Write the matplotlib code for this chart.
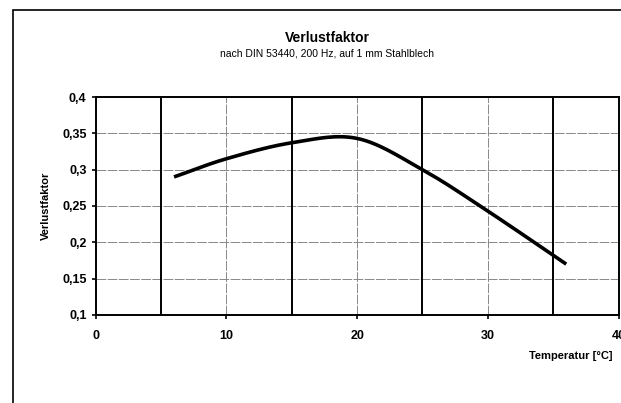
import numpy as np
import matplotlib.pyplot as plt
from matplotlib.patches import Rectangle
from matplotlib.ticker import FuncFormatter

temperatur = [6, 10, 15, 20, 25, 30, 36]
verlustfaktor = [0.29, 0.315, 0.337, 0.343, 0.30, 0.243, 0.17]

x_ticks = [0, 10, 20, 30, 40]
y_ticks = [0.1, 0.15, 0.2, 0.25, 0.3, 0.35, 0.4]
dicke_linien = [5, 15, 25, 35]
duenne_linien = [10, 20, 30]


def glatt(x, y, n=30):
    # Catmull-Rom Glaettung wie in Excel
    x = np.asarray(x, float)
    y = np.asarray(y, float)
    px = np.concatenate([[2 * x[0] - x[1]], x, [2 * x[-1] - x[-2]]])
    py = np.concatenate([[2 * y[0] - y[1]], y, [2 * y[-1] - y[-2]]])
    xs, ys = [], []
    t = np.linspace(0, 1, n)
    for i in range(1, len(px) - 2):
        for p, out in ((px, xs), (py, ys)):
            p0, p1, p2, p3 = p[i - 1], p[i], p[i + 1], p[i + 2]
            out.extend(0.5 * (2 * p1 + (-p0 + p2) * t
                              + (2 * p0 - 5 * p1 + 4 * p2 - p3) * t ** 2
                              + (-p0 + 3 * p1 - 3 * p2 + p3) * t ** 3))
    return xs, ys


plt.rcParams['font.family'] = ['Liberation Sans', 'DejaVu Sans']

fig = plt.figure(figsize=(6.21, 4.03), dpi=100)
fig.patches.append(Rectangle((13 / 621, -0.2), 1.2, 1.2 - 10 / 403,
                             transform=fig.transFigure, fill=False,
                             edgecolor='black', linewidth=1.2))

ax = fig.add_axes([0.154, 0.2184, 0.842, 0.5409])

for v in y_ticks[1:-1]:
    ax.axhline(v, color='#888888', linewidth=0.7, linestyle=(0, (10, 1.5)), zorder=1)
for v in duenne_linien:
    ax.axvline(v, color='#888888', linewidth=0.7, linestyle=(0, (10, 1.5)), zorder=1)
for v in dicke_linien:
    ax.axvline(v, color='black', linewidth=1.4, zorder=2)

xs, ys = glatt(temperatur, verlustfaktor)
ax.plot(xs, ys, color='black', linewidth=2.6, solid_capstyle='butt', zorder=3)

ax.set_xlim(0, 40)
ax.set_ylim(0.1, 0.4)
ax.set_xticks(x_ticks)
ax.set_yticks(y_ticks)
ax.yaxis.set_major_formatter(FuncFormatter(lambda v, p: f'{v:g}'.replace('.', ',')))
ax.tick_params(axis='both', direction='out', length=3, width=1.2, labelsize=9)
ax.tick_params(axis='x', pad=8)
for lab in ax.get_xticklabels() + ax.get_yticklabels():
    lab.set_fontweight('bold')
for s in ax.spines.values():
    s.set_linewidth(1.4)

ax.set_ylabel('Verlustfaktor', fontsize=8, fontweight='bold', labelpad=8)
fig.text(0.987, 0.117, 'Temperatur [°C]', fontsize=8, fontweight='bold', ha='right', va='center')

fig.text(0.527, 0.905, 'Verlustfaktor', fontsize=10, fontweight='bold', ha='center', va='center')
fig.text(0.527, 0.868, 'nach DIN 53440, 200 Hz, auf 1 mm Stahlblech', fontsize=7.5,
         ha='center', va='center')

fig.savefig('out.png', dpi=100)
